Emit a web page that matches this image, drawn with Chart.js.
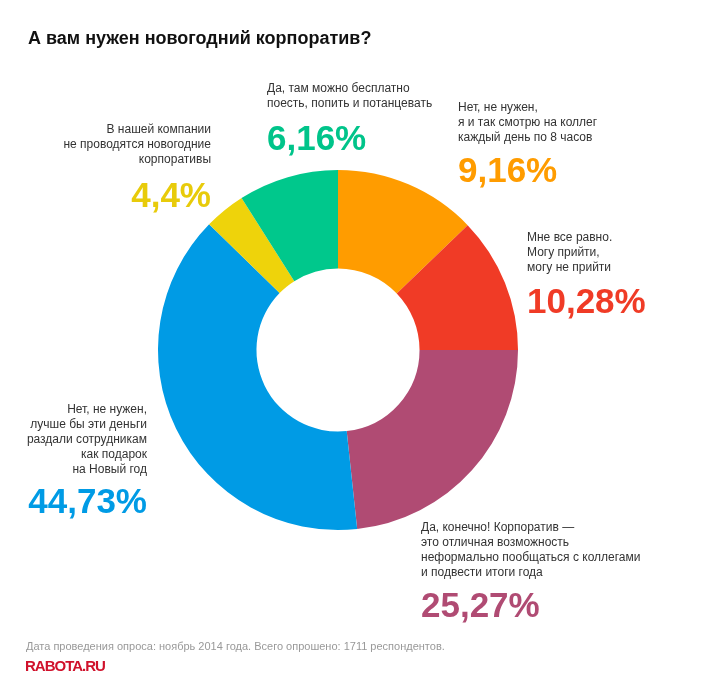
<!DOCTYPE html>
<html lang="ru">
<head>
  <meta charset="UTF-8">
  <title>А вам нужен новогодний корпоратив?</title>
  <script src="https://cdn.jsdelivr.net/npm/chart.js"></script>
  <style>
    html, body {
      margin: 0;
      padding: 0;
      background: #fff;
    }
    body {
      width: 701px;
      height: 681px;
      position: relative;
      overflow: hidden;
      font-family: "Liberation Sans", Arial, sans-serif;
      color: #333;
    }
    #chart {
      position: absolute;
      left: 0;
      top: 0;
    }
    .title {
      position: absolute;
      left: 28px;
      top: 28px;
      font-size: 18px;
      line-height: 20px;
      font-weight: bold;
      color: #111;
      white-space: nowrap;
    }
    .label {
      position: absolute;
      font-size: 12px;
      line-height: 15px;
      color: #333;
      white-space: nowrap;
    }
    .pct {
      position: absolute;
      font-size: 35px;
      line-height: 35px;
      font-weight: bold;
      white-space: nowrap;
    }
    .right { text-align: right; }
    .footer {
      position: absolute;
      left: 26px;
      top: 640px;
      font-size: 11px;
      line-height: 13px;
      color: #999;
      white-space: nowrap;
    }
    .logo {
      position: absolute;
      left: 25px;
      top: 658px;
      font-family: "Liberation Sans Narrow", "Arial Narrow", sans-serif;
      font-size: 15px;
      line-height: 15px;
      font-weight: bold;
      letter-spacing: -1px;
      color: #d0112b;
    }
  </style>
</head>
<body>

<canvas id="chart" width="701" height="681"></canvas>
<div class="title">А вам нужен новогодний корпоратив?</div>
<div id="labels"></div>
<div class="footer">Дата проведения опроса: ноябрь 2014 года. Всего опрошено: 1711 респондентов.</div>
<div class="logo">RABOTA.RU</div>

<script>
  // ответы по часовой стрелке, начиная сверху
  const answers = [
    ["Нет, не нужен,", "я и так смотрю на коллег", "каждый день по 8 часов"],
    ["Мне все равно.", "Могу прийти,", "могу не прийти"],
    ["Да, конечно! Корпоратив —", "это отличная возможность", "неформально пообщаться с коллегами", "и подвести итоги года"],
    ["Нет, не нужен,", "лучше бы эти деньги", "раздали сотрудникам", "как подарок", "на Новый год"],
    ["В нашей компании", "не проводятся новогодние", "корпоративы"],
    ["Да, там можно бесплатно", "поесть, попить и потанцевать"]
  ];

  // проценты, подписанные на картинке
  const printedShares = [9.16, 10.28, 25.27, 44.73, 4.4, 6.16];

  // размеры секторов, как они нарисованы в оригинале (в %), они не совпадают с подписями
  const sliceShares = [12.8, 12.2, 23.3, 39.0, 3.7, 9.0];

  const sliceColors = ["#ff9c00", "#f03b26", "#b04b73", "#009be5", "#eed30b", "#00c88c"];
  const pctColors = ["#ff9c00", "#f03b26", "#b04b73", "#009be5", "#e8cb0a", "#00c48a"];

  // позиции подписей: x (left или right), top текста, top процента, выравнивание
  const labelPos = [
    { x: 458, top: 100, pctTop: 152, align: "left" },
    { x: 527, top: 230, pctTop: 283, align: "left" },
    { x: 421, top: 520, pctTop: 587, align: "left" },
    { x: 147, top: 402, pctTop: 483, align: "right" },
    { x: 211, top: 122, pctTop: 177, align: "right" },
    { x: 267, top: 81, pctTop: 120, align: "left" }
  ];

  function formatPct(v) {
    return String(v).replace(".", ",") + "%";
  }

  function drawLabels() {
    const box = document.getElementById("labels");
    answers.forEach((lines, i) => {
      const p = labelPos[i];
      const lab = document.createElement("div");
      const pct = document.createElement("div");
      lab.className = "label";
      pct.className = "pct";
      lab.innerHTML = lines.join("<br>");
      pct.textContent = formatPct(printedShares[i]);
      pct.style.color = pctColors[i];
      [lab, pct].forEach(el => {
        if (p.align === "right") {
          el.classList.add("right");
          el.style.right = (701 - p.x) + "px";
        } else {
          el.style.left = p.x + "px";
        }
      });
      lab.style.top = p.top + "px";
      pct.style.top = p.pctTop + "px";
      box.appendChild(lab);
      box.appendChild(pct);
    });
  }

  new Chart(document.getElementById("chart").getContext("2d"), {
    type: "doughnut",
    data: {
      labels: answers.map(a => a.join(" ")),
      datasets: [{
        data: sliceShares,
        backgroundColor: sliceColors,
        borderWidth: 0,
        hoverOffset: 0,
        radius: 180,
        cutout: "45.3%"
      }]
    },
    options: {
      responsive: false,
      animation: false,
      layout: { padding: { left: 0, right: 25, top: 19, bottom: 0 } },
      plugins: {
        legend: { display: false },
        tooltip: { enabled: false }
      }
    }
  });

  drawLabels();
</script>

</body>
</html>
